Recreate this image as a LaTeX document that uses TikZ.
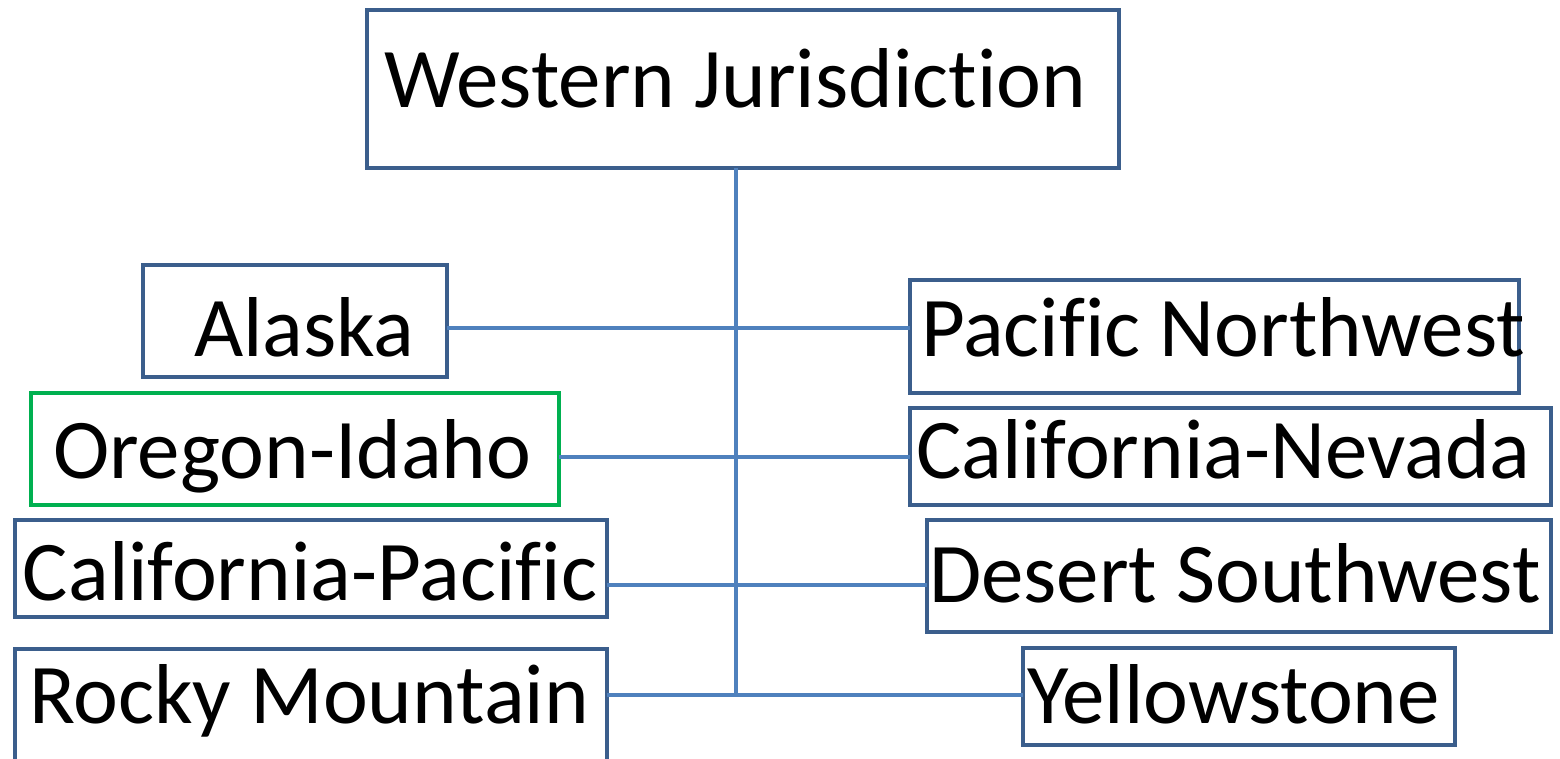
\documentclass[tikz,border=0pt]{standalone}
\usepackage{fontspec}
\setmainfont{Carlito}[Ligatures={NoCommon,NoRare,NoContextual},RawFeature={-liga;-clig;-dlig}]
\definecolor{boxblue}{HTML}{3B5E8C}
\definecolor{lineblue}{HTML}{4F81BD}
\definecolor{boxgreen}{HTML}{00B050}
\begin{document}
\begin{tikzpicture}[x=1pt,y=-1pt,
  box/.style={draw=boxblue,line width=4.5pt,rectangle,inner sep=0pt,outer sep=0pt,fill=white},
  gbox/.style={box,draw=boxgreen},
  lbl/.style={anchor=base west,inner sep=0pt,outer sep=0pt,font=\fontsize{85}{100}\selectfont},
  conn/.style={draw=lineblue,line width=4.5pt}]
\useasboundingbox (0,0) rectangle (1560,759);
% junction coordinates on the trunk
\coordinate (j1) at (736,328);
\coordinate (j2) at (736,457);
\coordinate (j3) at (736,585);
\coordinate (j4) at (736,695);
% boxes
\node[box,minimum width=752pt,minimum height=158pt] (wj) at (743,89) {};
\node[box,minimum width=304pt,minimum height=112pt] (ak) at (295,321) {};
\node[gbox,minimum width=528pt,minimum height=112pt] (oi) at (295,449) {};
\node[box,minimum width=592pt,minimum height=97pt] (cp) at (311,568.5) {};
\node[box,minimum width=592pt,minimum height=114pt] (rm) at (311,706) {};
\node[box,minimum width=609pt,minimum height=113pt] (pnw) at (1214.5,336.5) {};
\node[box,minimum width=641pt,minimum height=97pt] (cn) at (1230.5,456.5) {};
\node[box,minimum width=624pt,minimum height=112pt] (ds) at (1239,576) {};
\node[box,minimum width=432pt,minimum height=97pt] (ys) at (1239,696.5) {};
% connectors
\draw[conn] (j4 |- wj.south) -- (j4);
\draw[conn] (ak.east |- j1) -- (pnw.west |- j1);
\draw[conn] (oi.east |- j2) -- (cn.west |- j2);
\draw[conn] (cp.east |- j3) -- (ds.west |- j3);
\draw[conn] (rm.east |- j4) -- (ys.west |- j4);
% labels
\node[lbl] (twj) at (384,108) {Western Jurisdiction};
\node[lbl] (tak) at (194,356) {Alaska};
\node[lbl] (toi) at (53,478) {Oregon-Idaho};
\node[lbl] (tcp) at (23,600) {California-Pacific};
\node[lbl] (trm) at (29,723) {Rocky Mountain};
\node[lbl] (tpnw) at (921,356) {Pacific Northwest};
\node[lbl] (tcn) at (916,478) {California-Nevada};
\node[lbl] (tds) at (929,602) {Desert Southwest};
\node[lbl] (tys) at (1027,723) {Yellowstone};
\end{tikzpicture}
\end{document}
